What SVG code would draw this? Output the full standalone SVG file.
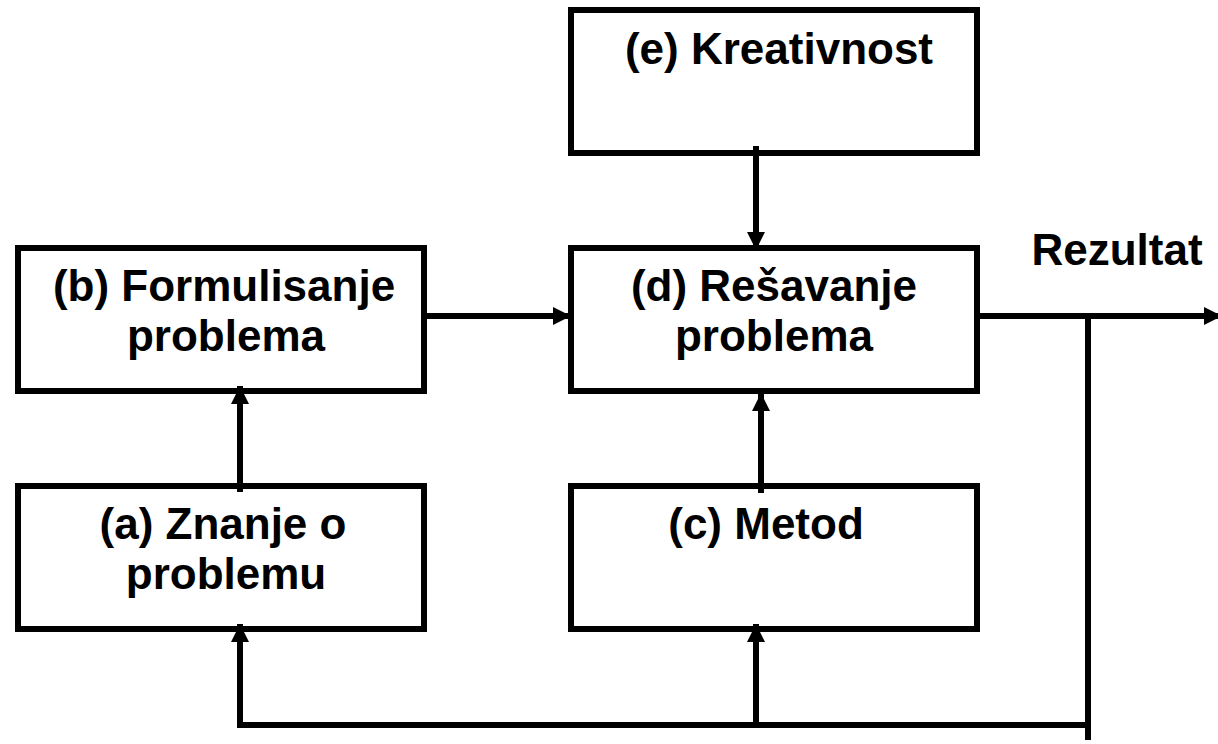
<svg xmlns="http://www.w3.org/2000/svg" width="1218" height="744" viewBox="0 0 1218 744">
<style>
.box{fill:#fff;stroke:#000;stroke-width:6}
.t{font-family:"Liberation Sans",Arial,sans-serif;font-weight:bold;font-size:44px;fill:#000;text-anchor:middle}
.c{fill:none;stroke:#000;stroke-width:6}
</style>
<defs>
<marker id="ah" viewBox="0 0 18 18" refX="18" refY="9" markerWidth="18" markerHeight="18" markerUnits="userSpaceOnUse" orient="auto">
<path d="M0,0 L18,9 L0,18 Z" fill="#000"/>
</marker>
</defs>
<rect width="1218" height="744" fill="#fff"/>
<g id="e"><rect class="box" x="571" y="10" width="406" height="143"/><text class="t" x="779" y="64">(e) Kreativnost</text></g>
<g id="b"><rect class="box" x="18" y="248" width="406" height="143"/><text class="t" x="224" y="301">(b) Formulisanje</text><text class="t" x="226" y="351">problema</text></g>
<g id="d"><rect class="box" x="571" y="248" width="406" height="143"/><text class="t" x="774" y="301">(d) Rešavanje</text><text class="t" x="774" y="351">problema</text></g>
<g id="a"><rect class="box" x="18" y="486" width="406" height="143"/><text class="t" x="223" y="539">(a) Znanje o</text><text class="t" x="226" y="589">problemu</text></g>
<g id="c"><rect class="box" x="571" y="486" width="406" height="143"/><text class="t" x="766" y="539">(c) Metod</text></g>
<g id="rez"><text class="t" x="1117" y="265">Rezultat</text></g>
<g id="connectors">
<line class="c" x1="424" y1="316" x2="571" y2="316" marker-end="url(#ah)"/>
<line class="c" x1="756" y1="146" x2="756" y2="250" marker-end="url(#ah)"/>
<line class="c" x1="761" y1="493" x2="761" y2="393" marker-end="url(#ah)"/>
<line class="c" x1="240" y1="492" x2="240" y2="386" marker-end="url(#ah)"/>
<line class="c" x1="977" y1="316" x2="1222" y2="316" marker-end="url(#ah)"/>
<polyline class="c" points="1088,316 1088,740"/>
<line class="c" x1="1091" y1="725" x2="237" y2="725"/>
<line class="c" x1="240" y1="728" x2="240" y2="624" marker-end="url(#ah)"/>
<line class="c" x1="756" y1="725" x2="756" y2="624" marker-end="url(#ah)"/>
</g>
</svg>
